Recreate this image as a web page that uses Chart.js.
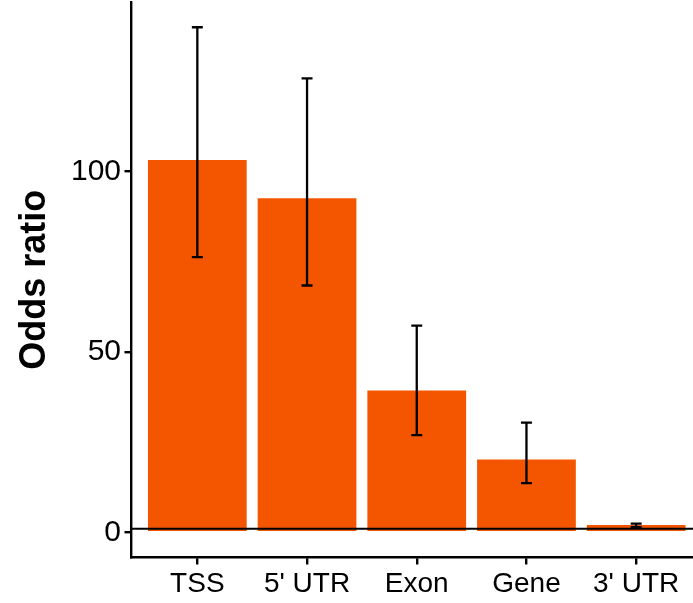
<!DOCTYPE html>
<html>
<head>
<meta charset="utf-8">
<script src="https://cdn.jsdelivr.net/npm/chart.js@4/dist/chart.umd.min.js"></script>
<style>
  html, body { margin: 0; padding: 0; background: #fff; overflow: hidden; }
  #wrap { width: 702px; height: 603px; position: relative; }
</style>
</head>
<body>
<div id="wrap"><canvas id="c"></canvas></div>
<script>
// Genomic feature categories and their odds ratios with confidence limits
const categories = ['TSS', "5' UTR", 'Exon', 'Gene', "3' UTR"];
const oddsRatio  = [103.2, 92.6, 39.3, 20.2, 2.0];
const ciLower    = [76.3, 68.4, 26.9, 13.6, 1.4];
const ciUpper    = [140.0, 125.8, 57.3, 30.4, 2.4];
const yTicks     = [0, 50, 100];
const refLine    = 1;

const barColor = '#F45600';
const fontFamily = '"Liberation Sans", Arial, Helvetica, sans-serif';

// Error bars and the reference line at odds ratio 1
const errorBarPlugin = {
  id: 'errorBars',
  afterDatasetsDraw(chart) {
    const { ctx, chartArea, scales: { x, y } } = chart;
    ctx.save();
    // reference line
    ctx.strokeStyle = '#000';
    ctx.lineWidth = 2;
    const yr = y.getPixelForValue(refLine);
    ctx.beginPath();
    ctx.moveTo(chartArea.left, yr);
    ctx.lineTo(chartArea.right, yr);
    ctx.stroke();
    // confidence intervals
    ctx.lineWidth = 2.3;
    ctx.lineCap = 'butt';
    categories.forEach((c, i) => {
      const xc = x.getPixelForValue(i + 1);
      const half = (x.getPixelForValue(i + 1.05) - x.getPixelForValue(i + 0.95)) / 2;
      const yl = y.getPixelForValue(ciLower[i]);
      const yu = y.getPixelForValue(ciUpper[i]);
      ctx.beginPath();
      ctx.moveTo(xc, yl); ctx.lineTo(xc, yu);
      ctx.moveTo(xc - half, yu); ctx.lineTo(xc + half, yu);
      ctx.moveTo(xc - half, yl); ctx.lineTo(xc + half, yl);
      ctx.stroke();
    });
    ctx.restore();
  }
};

new Chart(document.getElementById('c'), {
  type: 'bar',
  data: {
    datasets: [{
      data: categories.map((c, i) => ({ x: i + 1, y: oddsRatio[i] })),
      backgroundColor: barColor,
      borderWidth: 0,
      barPercentage: 0.9,
      categoryPercentage: 1.0
    }]
  },
  options: {
    responsive: true,
    maintainAspectRatio: false,
    animation: false,
    layout: { padding: { top: 2, right: 0, left: 0, bottom: 0 } },
    plugins: { legend: { display: false }, tooltip: { enabled: false } },
    scales: {
      x: {
        type: 'linear',
        offset: false,
        min: 0.4,
        max: 5.6,
        afterBuildTicks: s => { s.ticks = categories.map((c, i) => ({ value: i + 1 })); },
        afterFit: s => { s.height = 45.5; s.paddingLeft = 0; s.paddingRight = 0; },
        ticks: {
          autoSkip: false,
          maxRotation: 0,
          padding: 3,
          color: '#000',
          font: { family: fontFamily, size: 28 },
          callback: v => categories[v - 1]
        },
        grid: { display: true, offset: false, drawOnChartArea: false, drawTicks: true, tickLength: 7, color: '#000', lineWidth: 2.4 },
        border: { display: true, color: '#000', width: 2.4 }
      },
      y: {
        type: 'linear',
        min: -7,
        max: 147,
        afterBuildTicks: s => { s.ticks = yTicks.map(v => ({ value: v })); },
        afterFit: s => { s.width = 131.5; s.paddingTop = 0; s.paddingBottom = 0; },
        ticks: {
          padding: 3.5,
          color: '#000',
          font: { family: fontFamily, size: 30 }
        },
        title: {
          display: true,
          text: 'Odds ratio',
          color: '#000',
          padding: { top: 13, bottom: 0 },
          font: { family: fontFamily, size: 36, weight: 'bold' }
        },
        grid: { display: true, drawOnChartArea: false, drawTicks: true, tickLength: 7, color: '#000', lineWidth: 2.4 },
        border: { display: true, color: '#000', width: 2.4 }
      }
    }
  },
  plugins: [errorBarPlugin]
});
</script>
</body>
</html>
